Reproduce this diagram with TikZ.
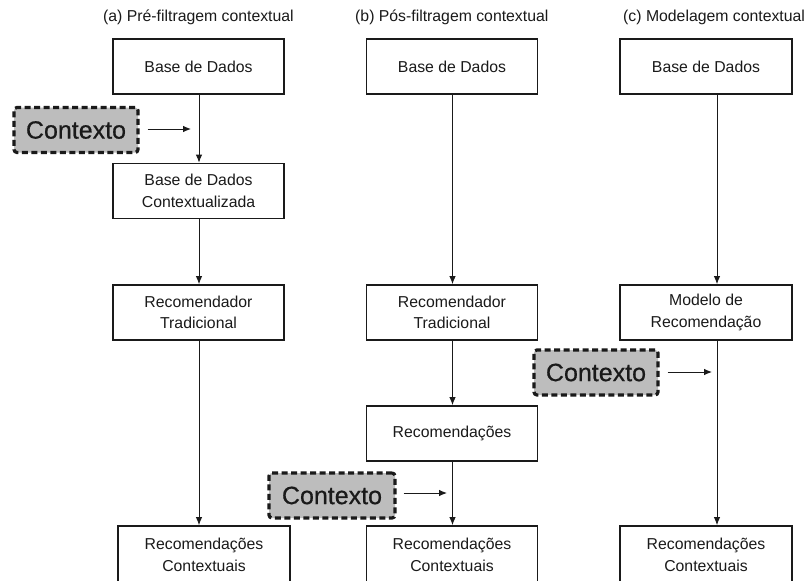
\documentclass[tikz,border=0pt]{standalone}
\usepackage{fontspec}
\setmainfont{Liberation Sans}
\newfontfamily\ctxfont[FakeBold=0.6]{Liberation Sans}
\usetikzlibrary{arrows.meta}
\definecolor{ink}{HTML}{1A1A1A}
\definecolor{ctxgray}{HTML}{BDBDBD}
\tikzset{
  stage/.style={draw=ink, line width=1.8pt, fill=white, text=ink,
    minimum width=171pt, minimum height=55pt, align=center,
    inner sep=0pt, font=\fontsize{15.8}{21.5}\selectfont},
  ctxbox/.style={draw=ink, line width=3.2pt, fill=ctxgray, text=ink,
    dash pattern=on 6pt off 3.5pt, rounded corners=3pt,
    minimum width=124pt, minimum height=45pt, inner sep=0pt,
    font=\ctxfont\fontsize{25}{30}\selectfont},
  flow/.style={draw=ink, line width=0.9pt,
    -{Latex[length=8pt,width=6.5pt]}},
  title/.style={anchor=base west, text=ink, inner sep=0pt,
    font=\fontsize{15.8}{18}\selectfont}
}
\begin{document}
\begin{tikzpicture}[x=1pt,y=-1pt]
\clip (0,0) rectangle (809,581);
\fill[white] (0,0) rectangle (809,581);

% column titles
\node[title] (ta) at (103,21) {(a) Pré-filtragem contextual};
\node[title] (tb) at (355,21) {(b) Pós-filtragem contextual};
\node[title] (tc) at (623,21) {(c) Modelagem contextual};

% (a) pre-filtering
\node[stage] (a1) at (198.5,66.5) {Base de Dados};
\node[stage] (a2) at (198.5,191) {Base de Dados\\Contextualizada};
\node[stage] (a3) at (198.5,312.5) {Recomendador\\Tradicional};
\node[stage, minimum width=172pt, minimum height=58pt] (a4) at (204,555) {Recomendações\\Contextuais};
\node[ctxbox] (ka) at (76,130) {Contexto};
\coordinate (xa) at (199,0);
\coordinate (pa) at (191,129);

% (b) post-filtering
\node[stage] (b1) at (452,66.5) {Base de Dados};
\node[stage] (b2) at (452,312.5) {Recomendador\\Tradicional};
\node[stage] (b3) at (452,433.5) {Recomendações};
\node[stage, minimum height=58pt] (b4) at (452,555) {Recomendações\\Contextuais};
\node[ctxbox, minimum width=126pt] (kb) at (332,495.5) {Contexto};
\coordinate (xb) at (452.5,0);
\coordinate (pb) at (447,493);

% (c) contextual modelling
\node[stage, minimum width=172pt] (c1) at (706,66.5) {Base de Dados};
\node[stage, minimum width=172pt] (c2) at (706,312.5) {Modelo de\\Recomendação};
\node[stage, minimum width=172pt, minimum height=58pt] (c3) at (706,555) {Recomendações\\Contextuais};
\node[ctxbox] (kc) at (596,372.5) {Contexto};
\coordinate (xc) at (717,0);
\coordinate (pc) at (712,372);

% vertical flow
\draw[flow] (a1.south -| xa) -- (a2.north -| xa);
\draw[flow] (a2.south -| xa) -- (a3.north -| xa);
\draw[flow] (a3.south -| xa) -- (a4.north -| xa);
\draw[flow] (b1.south -| xb) -- (b2.north -| xb);
\draw[flow] (b2.south -| xb) -- (b3.north -| xb);
\draw[flow] (b3.south -| xb) -- (b4.north -| xb);
\draw[flow] (c1.south -| xc) -- (c2.north -| xc);
\draw[flow] (c2.south -| xc) -- (c3.north -| xc);

% context inputs
\draw[flow] ([xshift=8pt]ka.east |- pa) -- (pa);
\draw[flow] ([xshift=7pt]kb.east |- pb) -- (pb);
\draw[flow] ([xshift=8pt]kc.east |- pc) -- (pc);
\end{tikzpicture}
\end{document}
